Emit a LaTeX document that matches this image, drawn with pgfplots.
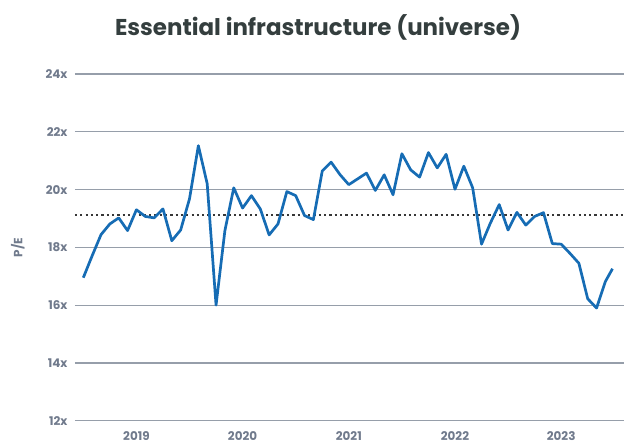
\documentclass[border=0pt]{standalone}
\usepackage{pgfplots}
\pgfplotsset{compat=1.18}
\usepackage{fontspec}
\setmainfont{Poppins}
\definecolor{lineblue}{RGB}{22,108,180}
\definecolor{tickgray}{RGB}{112,122,140}
\definecolor{gridgray}{RGB}{150,158,170}
\definecolor{titlegray}{RGB}{52,62,62}
\definecolor{dotgray}{RGB}{55,55,55}
\begin{document}
\begin{tikzpicture}
\path[use as bounding box] (-75bp,-25.3bp) rectangle (549bp,420.7bp);
\begin{axis}[
  at={(0,0)}, anchor=south west,
  scale only axis,
  width=549bp, height=346.7bp,
  xmin=-0.94, xmax=61.1,
  ymin=12, ymax=24,
  axis line style={draw=none},
  tick style={draw=none},
  ytick={12,14,16,18,20,22,24},
  yticklabels={12x,14x,16x,18x,20x,22x,24x},
  xtick={6,18,30,42,54},
  xticklabels={2019,2020,2021,2022,2023},
  ymajorgrids,
  grid style={gridgray, line width=1.2bp},
  ticklabel style={font=\fontsize{12}{14}\selectfont\bfseries, text=tickgray},
  yticklabel style={xshift=-4bp},
  xticklabel style={yshift=-7bp},
  ylabel={P/E},
  ylabel style={font=\fontsize{12}{14}\selectfont\bfseries, text=tickgray, at={(axis description cs:-0.104,0.5)}, anchor=center},
  clip=false,
]
\addplot[dotgray, line width=2.2bp, dash pattern=on 2.2bp off 3.1bp] coordinates {(-0.94,19.13) (61.1,19.13)};
\addplot[color=lineblue, line width=2.7bp, line join=round] coordinates {
(0,16.95) (1,17.71) (2,18.44) (3,18.81) (4,19.02) (5,18.58) (6,19.30) (7,19.07) (8,19.02) (9,19.33)
(10,18.23) (11,18.60) (12,19.68) (13,21.52) (14,20.20) (15,16.00) (16,18.58) (17,20.06) (18,19.36) (19,19.79)
(20,19.33) (21,18.43) (22,18.81) (23,19.93) (24,19.79) (25,19.10) (26,18.96) (27,20.64) (28,20.95) (29,20.52)
(30,20.17) (31,20.37) (32,20.57) (33,19.97) (34,20.51) (35,19.82) (36,21.24) (37,20.68) (38,20.43) (39,21.28)
(40,20.75) (41,21.22) (42,20.01) (43,20.81) (44,20.06) (45,18.11) (46,18.84) (47,19.48) (48,18.60) (49,19.21)
(50,18.77) (51,19.07) (52,19.20) (53,18.13) (54,18.11) (55,17.79) (56,17.45) (57,16.22) (58,15.90) (59,16.82)
(59.8,17.26)
};
\end{axis}
\node[font=\fontsize{23}{27}\selectfont\bfseries, text=titlegray] at (243bp,393.7bp) {Essential infrastructure (universe)};
\end{tikzpicture}
\end{document}
